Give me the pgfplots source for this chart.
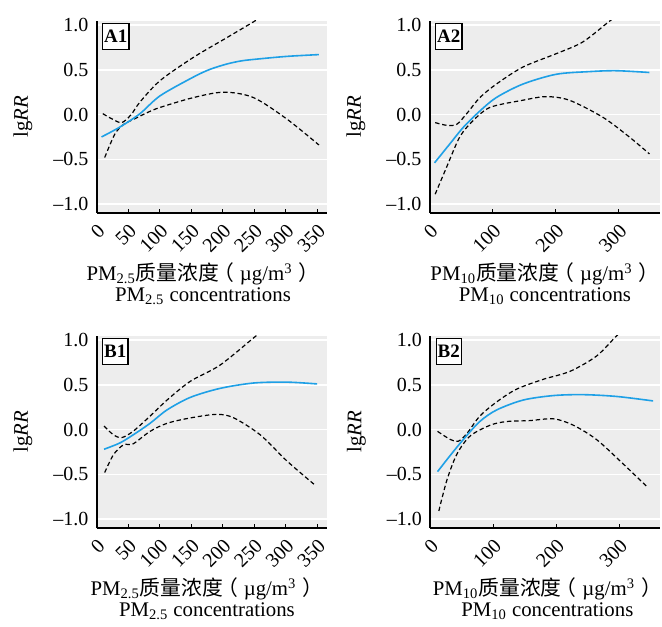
\documentclass[border=0pt]{standalone}
\usepackage{fontspec}
\setmainfont{Liberation Serif}
\newfontfamily\cjk{Noto Sans CJK SC}
\usepackage{pgfplots}
\pgfplotsset{compat=1.18}
\definecolor{bgcol}{RGB}{237,237,237}
\definecolor{fitblue}{RGB}{30,160,230}
\newcommand{\unitlab}{{\cjk 质量浓度\hspace{-3pt}（}\hspace{3pt}µg/m\textsuperscript{3}\hspace{3pt}{\cjk ）}\hspace{-4pt}}
\pgfplotsset{
  panel/.style={
    width=115pt, height=96.2pt, scale only axis,
    xmin=0, xmax=365, ymin=-1.1, ymax=1.05,
    axis x line*=bottom, axis y line*=left,
    axis line style={line width=1pt, -},
    axis background/.style={fill=bgcol},
    ytick={-1,-0.5,0,0.5,1}, yticklabels={–1.0,–0.5,0.0,0.5,1.0},
    ymajorgrids, grid style={white, line width=0.8pt},
    tick align=inside, major tick length=2pt,
    ytick style={draw=none},
    xtick style={black, line width=0.5pt},
    xticklabel style={rotate=45, anchor=north east},
    yticklabel style={xshift=-0.5pt},
    tick label style={font=\fontsize{10}{12}\selectfont},
    label style={font=\fontsize{10.4}{10.8}\selectfont},
    ylabel={lg\textit{RR}},
    ylabel style={at={(axis description cs:-0.32,0.5)}, anchor=center},
    xlabel style={align=center, anchor=center, inner sep=0pt},
    fit/.style={fitblue, line width=0.8pt, smooth},
    ci/.style={black, line width=0.6pt, dash pattern=on 2.2pt off 1.4pt, smooth},
  },
  pm25/.style={xtick={0,50,100,150,200,250,300,350}, xticklabels={0,50,100,150,200,250,300,350},
    xlabel={PM\textsubscript{2.5}\unitlab\\PM\textsubscript{2.5} concentrations}},
  pm10/.style={xtick={0,100,200,300}, xticklabels={0,100,200,300},
    xlabel={PM\textsubscript{10}\unitlab\\PM\textsubscript{10} concentrations}},
}
\newcommand{\panellabel}[1]{\node[draw=black, line width=0.6pt, fill=white, inner xsep=0.8pt, inner ysep=1.2pt, minimum height=13pt, font=\fontsize{9.5}{11}\bfseries, anchor=north west] at (rel axis cs:0.024,0.99) {#1};}
\begin{document}
\begin{tikzpicture}
\useasboundingbox (0pt,0pt) rectangle (331pt,313pt);
% A1
\begin{axis}[panel, pm25, at={(48.25pt,206.5pt)}, anchor=south west,
  xlabel style={at={(axis description cs:0.463,-0.368)}}]
\addplot[ci] coordinates {(10,0.01) (25,-0.05) (40,-0.09) (55,0.0) (69,0.14) (101,0.38) (154,0.64) (207,0.86) (250,1.04) (260,1.09)};
\addplot[ci] coordinates {(13,-0.48) (29,-0.22) (43,-0.11) (60,-0.05) (80,0.02) (101,0.08) (154,0.19) (202,0.25) (249,0.19) (302,-0.05) (353,-0.34)};
\addplot[fit] coordinates {(8,-0.25) (37,-0.14) (69,0.01) (101,0.21) (154,0.42) (180,0.505) (207,0.565) (230,0.60) (255,0.62) (302,0.65) (353,0.67)};
\panellabel{A1}
\end{axis}
% A2
\begin{axis}[panel, pm10, at={(214.75pt,206.5pt)}, anchor=south west,
  xlabel style={at={(axis description cs:0.502,-0.368)}}]
\addplot[ci] coordinates {(9,-0.09) (27,-0.12) (43,-0.11) (59,0.01) (80,0.19) (106,0.34) (148,0.53) (201,0.68) (243,0.81) (285,1.04) (295,1.09)};
\addplot[ci] coordinates {(9,-0.89) (27,-0.59) (48,-0.25) (69,-0.07) (96,0.08) (148,0.16) (185,0.20) (222,0.16) (275,-0.03) (317,-0.25) (349,-0.44)};
\addplot[fit] coordinates {(8,-0.54) (32,-0.33) (54,-0.14) (80,0.04) (106,0.19) (148,0.34) (201,0.45) (254,0.48) (296,0.49) (349,0.47)};
\panellabel{A2}
\end{axis}
% B1
\begin{axis}[panel, pm25, at={(48.25pt,49pt)}, anchor=south west,
  xlabel style={at={(axis description cs:0.48,-0.368)}}]
\addplot[ci] coordinates {(12,0.04) (27,-0.06) (40,-0.09) (58,-0.02) (85,0.15) (112,0.33) (149,0.54) (196,0.72) (252,1.04) (262,1.09)};
\addplot[ci] coordinates {(13,-0.48) (27,-0.28) (43,-0.17) (58,-0.16) (85,-0.02) (112,0.07) (149,0.13) (191,0.17) (218,0.13) (260,-0.06) (302,-0.35) (345,-0.61)};
\addplot[fit] coordinates {(12,-0.22) (37,-0.15) (58,-0.06) (85,0.07) (112,0.22) (149,0.36) (196,0.46) (249,0.52) (302,0.53) (350,0.51)};
\panellabel{B1}
\end{axis}
% B2
\begin{axis}[panel, pm10, at={(215pt,49pt)}, anchor=south west,
  xlabel style={at={(axis description cs:0.51,-0.368)}}]
\addplot[ci] coordinates {(12,-0.02) (32,-0.11) (45,-0.13) (59,-0.04) (79,0.15) (106,0.31) (137,0.45) (179,0.56) (222,0.65) (264,0.82) (295,1.04) (303,1.09)};
\addplot[ci] coordinates {(14,-0.91) (27,-0.56) (43,-0.27) (64,-0.07) (96,0.05) (122,0.09) (158,0.10) (196,0.12) (227,0.05) (264,-0.11) (306,-0.38) (346,-0.65)};
\addplot[fit] coordinates {(12,-0.47) (32,-0.29) (53,-0.11) (79,0.09) (106,0.22) (148,0.33) (196,0.38) (243,0.39) (296,0.37) (354,0.32)};
\panellabel{B2}
\end{axis}
\end{tikzpicture}
\end{document}
